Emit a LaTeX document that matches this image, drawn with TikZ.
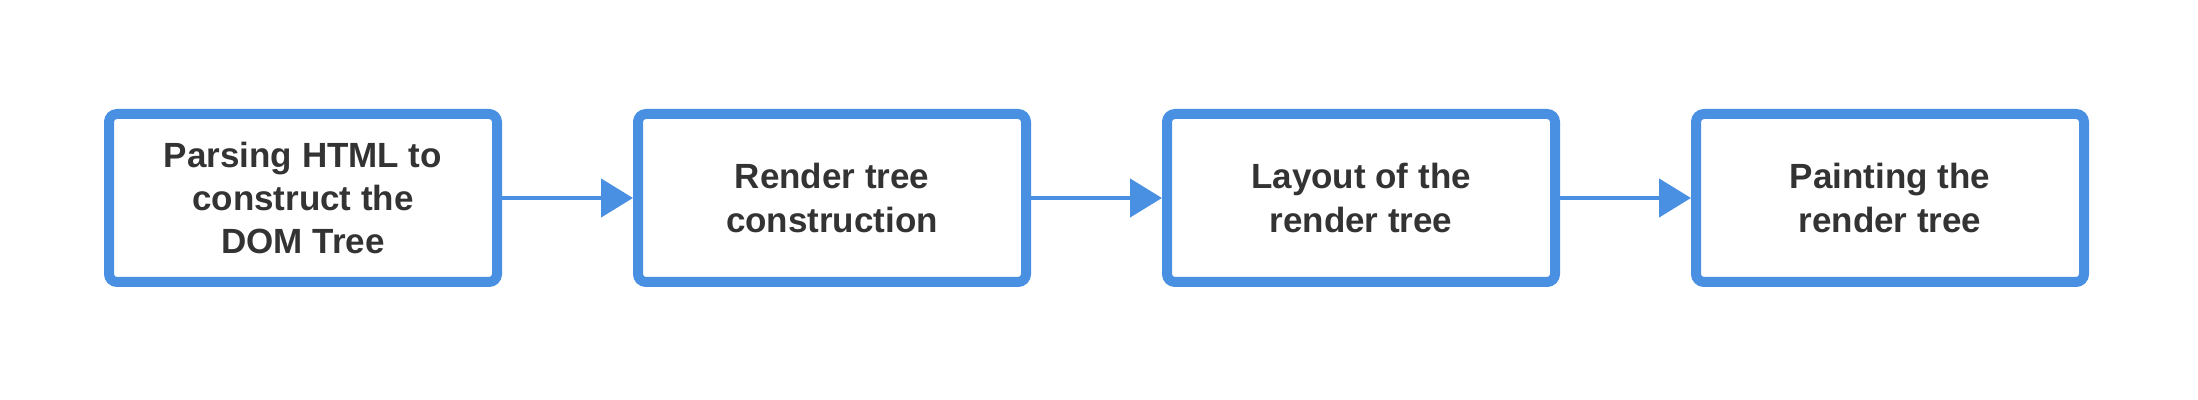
\documentclass[tikz,border=0pt]{standalone}
\usepackage{fontspec}
\setmainfont{Liberation Sans}
\usepackage{tikz}
\usetikzlibrary{arrows.meta, positioning}
\definecolor{boxblue}{HTML}{4A90E2}
\definecolor{textgray}{HTML}{333333}

\begin{document}
\begin{tikzpicture}[
    stage/.style={draw=boxblue, line width=5pt, rounded corners=4pt, fill=white,
                  minimum width=194pt, minimum height=84pt, align=center,
                  text=textgray, font=\fontsize{17.5}{21.7}\selectfont\bfseries},
    arr/.style={-{Triangle[length=16pt, width=19pt]}, draw=boxblue, line width=2.3pt},
    node distance=65.5pt
]
    \useasboundingbox (0,0) rectangle (1099pt,-200pt);

    \node[stage] (dom) at (151.5pt,-99pt) {Parsing HTML to\\construct the\\DOM Tree};
    \node[stage, right=of dom] (render) {Render tree\\construction};
    \node[stage, right=of render] (layout) {Layout of the\\render tree};
    \node[stage, right=of layout] (paint) {Painting the\\render tree};

    \draw[arr] (dom) -- (render);
    \draw[arr] (render) -- (layout);
    \draw[arr] (layout) -- (paint);
\end{tikzpicture}
\end{document}
